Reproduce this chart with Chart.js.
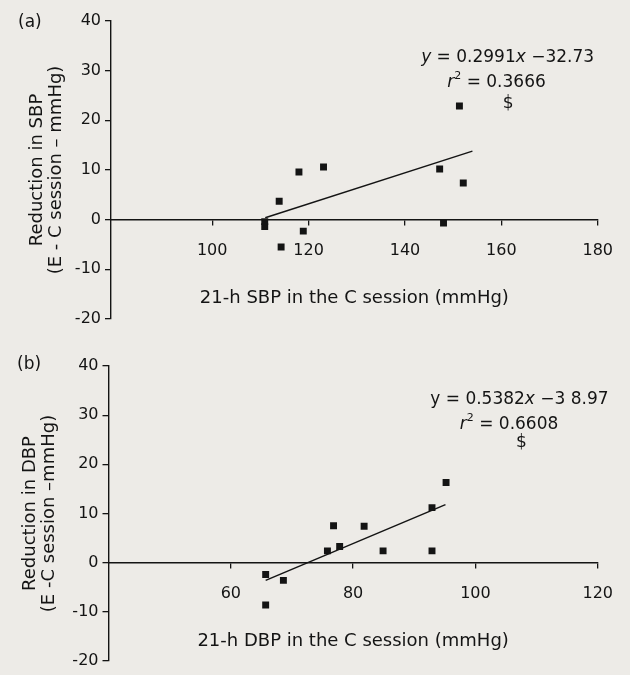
<!DOCTYPE html>
<html>
<head>
<meta charset="utf-8">
<script src="https://cdn.jsdelivr.net/npm/chart.js@4.4.0/dist/chart.umd.min.js"></script>
<style>
  html, body { margin: 0; padding: 0; background: #edebe7; }
  #wrap { position: relative; width: 630px; height: 675px; }
  .panel { position: absolute; left: 0; width: 630px; }
  #panelA { top: 0; height: 345px; }
  #panelB { top: 345px; height: 330px; }
</style>
</head>
<body>
<div id="wrap">
  <div class="panel" id="panelA"><canvas id="chartA"></canvas></div>
  <div class="panel" id="panelB"><canvas id="chartB"></canvas></div>
</div>
<script>
// ==================== DATOS ====================
// (a) SBP
const sbpX = [110.9, 110.9, 113.9, 114.3, 118.0, 118.9, 123.1, 147.2, 148.0, 151.3, 152.1];
const sbpY = [-0.4, -1.4, 3.7, -5.5, 9.6, -2.3, 10.6, 10.2, -0.7, 22.9, 7.4];
const sbpFitX = [111, 154];
const sbpFitY = [0.4, 13.8];
const sbpTicksX = [100, 120, 140, 160, 180];

// (b) DBP
const dbpX = [65.7, 65.7, 68.6, 75.8, 76.8, 77.8, 81.8, 84.9, 92.9, 92.9, 95.2];
const dbpY = [-2.4, -8.6, -3.6, 2.4, 7.5, 3.3, 7.4, 2.4, 2.4, 11.2, 16.3];
const dbpFitX = [65.7, 95.1];
const dbpFitY = [-3.6, 11.8];
const dbpTicksX = [60, 80, 100, 120];

const ticksY = [-20, -10, 0, 10, 20, 30, 40];

const INK = '#141414';
const FONT = "'DejaVu Sans', sans-serif";

// ==================== NOTAS (ecuaciones, letra del panel) ====================
function drawRuns(ctx, runs, cx, cy, size) {
  const fontFor = kind => kind === 'i' ? `italic ${size}px ${FONT}`
    : kind === 'sup' ? `${Math.round(size * 0.65)}px ${FONT}` : `${size}px ${FONT}`;
  let total = 0;
  runs.forEach(([t, k]) => { ctx.font = fontFor(k); total += ctx.measureText(t).width; });
  let x = cx - total / 2;
  runs.forEach(([t, k]) => {
    ctx.font = fontFor(k);
    ctx.fillText(t, x, k === 'sup' ? cy - size * 0.35 : cy);
    x += ctx.measureText(t).width;
  });
}

const notesPlugin = {
  id: 'notes',
  afterDraw(chart, args, opts) {
    const { ctx, scales } = chart;
    ctx.save();
    ctx.fillStyle = INK;
    ctx.textBaseline = 'middle';
    ctx.textAlign = 'left';
    ctx.font = `17px ${FONT}`;
    ctx.fillText(opts.letter, opts.letterPos[0], opts.letterPos[1]);
    opts.lines.forEach(l => {
      drawRuns(ctx, l.runs, scales.x.getPixelForValue(l.x), scales.y.getPixelForValue(l.y), 17);
    });
    ctx.restore();
  }
};

// ==================== GRÁFICOS ====================
function buildChart(canvasId, p) {
  const points = p.x.map((v, i) => ({ x: v, y: p.y[i] }));
  const fit = p.fitX.map((v, i) => ({ x: v, y: p.fitY[i] }));

  return new Chart(document.getElementById(canvasId), {
    type: 'scatter',
    data: {
      datasets: [
        { data: points, pointStyle: 'rect', pointRadius: 4.9, backgroundColor: INK, borderWidth: 0 },
        { data: fit, showLine: true, borderColor: INK, borderWidth: 1.5, pointRadius: 0 }
      ]
    },
    options: {
      responsive: true,
      maintainAspectRatio: false,
      animation: false,
      layout: { padding: p.pad },
      plugins: {
        legend: { display: false },
        tooltip: { enabled: false },
        notes: p.notes
      },
      scales: {
        x: {
          type: 'linear',
          min: p.xMin,
          max: p.xMax,
          position: { y: 0 },
          afterBuildTicks: s => { s.ticks = p.ticksX.map(v => ({ value: v })); },
          grid: { drawOnChartArea: false, drawTicks: true, tickLength: 5, color: INK, lineWidth: 1.3 },
          border: { display: true, color: INK, width: 1.4 },
          ticks: { color: INK, font: { family: FONT, size: 16 }, padding: 17, maxRotation: 0 },
          title: {
            display: true, text: p.xTitle, color: INK,
            font: { family: FONT, size: 18 }, padding: { top: 10, bottom: 0 }
          }
        },
        y: {
          type: 'linear',
          min: -20,
          max: 40,
          afterBuildTicks: s => { s.ticks = ticksY.map(v => ({ value: v })); },
          afterFit: s => { s.width = p.axisLeft; },
          grid: { drawOnChartArea: false, drawTicks: true, tickLength: 6, color: INK, lineWidth: 1.3 },
          border: { display: true, color: INK, width: 1.4 },
          ticks: { color: INK, font: { family: FONT, size: 16 }, padding: 4 },
          title: {
            display: true, text: p.yTitle, color: INK,
            font: { family: FONT, size: 18, lineHeight: 1.1 }, padding: { top: p.titlePad, bottom: 0 }
          }
        }
      }
    },
    plugins: [notesPlugin]
  });
}

buildChart('chartA', {
  x: sbpX, y: sbpY, fitX: sbpFitX, fitY: sbpFitY, ticksX: sbpTicksX,
  xMin: 79, xMax: 180, axisLeft: 111, titlePad: 27,
  pad: { top: 21, bottom: 26, right: 23, left: 0 },
  xTitle: '21-h SBP in the C session (mmHg)',
  yTitle: ['Reduction in SBP', '(E - C session \u2013 mmHg)'],
  notes: {
    letter: '(a)', letterPos: [18, 23],
    lines: [
      { x: 161.3, y: 32.7, runs: [['y', 'i'], [' = 0.2991'], ['x', 'i'], [' \u221232.73']] },
      { x: 159.0, y: 27.7, runs: [['r', 'i'], ['2', 'sup'], [' = 0.3666']] },
      { x: 161.4, y: 23.4, runs: [['$']] }
    ]
  }
});

buildChart('chartB', {
  x: dbpX, y: dbpY, fitX: dbpFitX, fitY: dbpFitY, ticksX: dbpTicksX,
  xMin: 40, xMax: 120, axisLeft: 108.5, titlePad: 20,
  pad: { top: 21, bottom: 14, right: 24, left: 0 },
  xTitle: '21-h DBP in the C session (mmHg)',
  yTitle: ['Reduction in DBP', '(E -C session \u2013mmHg)'],
  notes: {
    letter: '(b)', letterPos: [17, 20],
    lines: [
      { x: 107.2, y: 33.1, runs: [['y'], [' = 0.5382'], ['x', 'i'], [' \u22123 8.97']] },
      { x: 105.5, y: 28.1, runs: [['r', 'i'], ['2', 'sup'], [' = 0.6608']] },
      { x: 107.5, y: 24.4, runs: [['$']] }
    ]
  }
});
</script>
</body>
</html>
